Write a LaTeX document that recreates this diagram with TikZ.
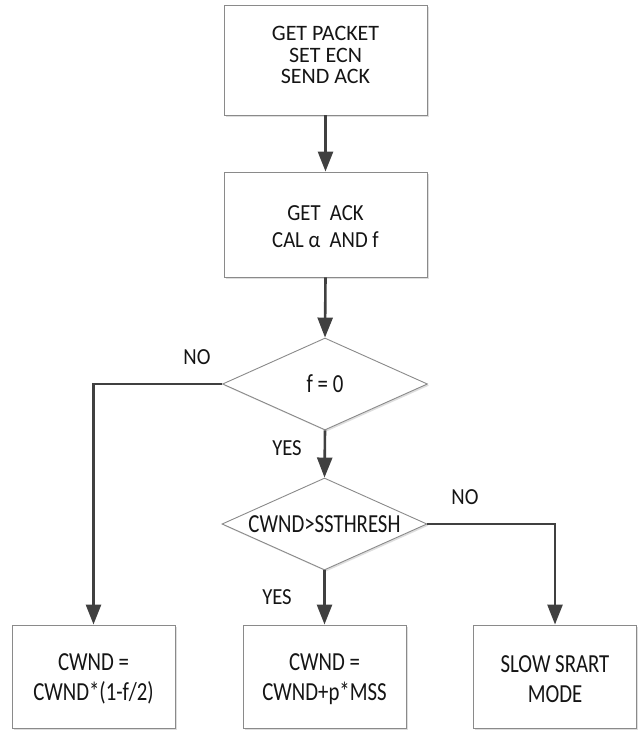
\documentclass[tikz,border=0pt]{standalone}
\usepackage{fontspec}
\setmainfont{Carlito}
\newfontfamily\narrowfont{Carlito}[FakeStretch=0.8]
\newfontfamily\semifont{Carlito}[FakeStretch=0.9]
\usetikzlibrary{shapes.geometric,arrows.meta,shadows}
\definecolor{boxgray}{HTML}{8A8A8A}
\definecolor{arrowgray}{HTML}{404040}
\definecolor{txt}{HTML}{151515}

\begin{document}
\begin{tikzpicture}[x=1pt,y=-1pt,
  shade/.style={drop shadow={shadow xshift=1.6pt, shadow yshift=-1.6pt, fill=black!13, opacity=1}},
  box/.style={shade, draw=boxgray, line width=0.9pt, fill=white, inner sep=0pt},
  boxtext/.style={align=center, inner sep=0pt, text=txt, font=\narrowfont\fontsize{26}{30}\selectfont},
  decision/.style={shade, diamond, draw=boxgray, line width=0.9pt, fill=white, inner sep=0pt,
    aspect=2.23, minimum width=205pt, minimum height=92pt, text=txt,
    font=\narrowfont\fontsize{26}{30}\selectfont},
  arr/.style={draw=arrowgray, line width=2.6pt, -{Triangle[length=20pt,width=15pt]}},
  lbl/.style={text=txt, font=\semifont\fontsize{23}{26}\selectfont}
]
\useasboundingbox (0,0) rectangle (640,731);

% process boxes
\node[box, minimum width=203pt, minimum height=110pt] (get) at (325.5,60) {};
\node[boxtext, font=\fontsize{22}{21.7}\selectfont] (gett) at (325.5,55) {GET PACKET\\SET ECN\\SEND ACK};
\node[box, minimum width=203pt, minimum height=105pt] (ack) at (325.5,224.5) {};
\node[boxtext, font=\semifont\fontsize{23}{27}\selectfont] (ackt) at (325.5,226.5) {GET\ \ ACK\\CAL α\ \ AND f};

% decisions
\node[decision] (f0) at (325,384) {f = 0};
\node[decision] (cw) at (324.5,524) {CWND>SSTHRESH};

% results
\node[box, minimum width=163pt, minimum height=103pt] (dec) at (93.5,676.5) {};
\node[boxtext] (dect) at (93.5,679) {CWND =\\CWND*(1-f/2)};
\node[box, minimum width=163pt, minimum height=103pt] (inc) at (324.5,676.5) {};
\node[boxtext] (inct) at (324.5,679) {CWND =\\CWND+p*MSS};
\node[box, minimum width=163pt, minimum height=103pt] (slow) at (555,676.5) {};
\node[boxtext] (slowt) at (555,679) {SLOW SRART\\MODE};

% connectors
\draw[arr] (get.south) -- (ack.north);
\draw[arr] (ack.south) -- (f0.north);
\draw[arr] (f0.west) -| (dec.north);
\draw[arr] (f0.south) -- (cw.north);
\draw[arr] (cw.south) -- (inc.north);
\draw[arr] (cw.east) -| (slow.north);

% branch labels
\node[lbl] (no1) at (197,357) {NO};
\node[lbl] (yes1) at (287,448) {YES};
\node[lbl] (no2) at (465,497) {NO};
\node[lbl] (yes2) at (277,597) {YES};
\end{tikzpicture}
\end{document}
